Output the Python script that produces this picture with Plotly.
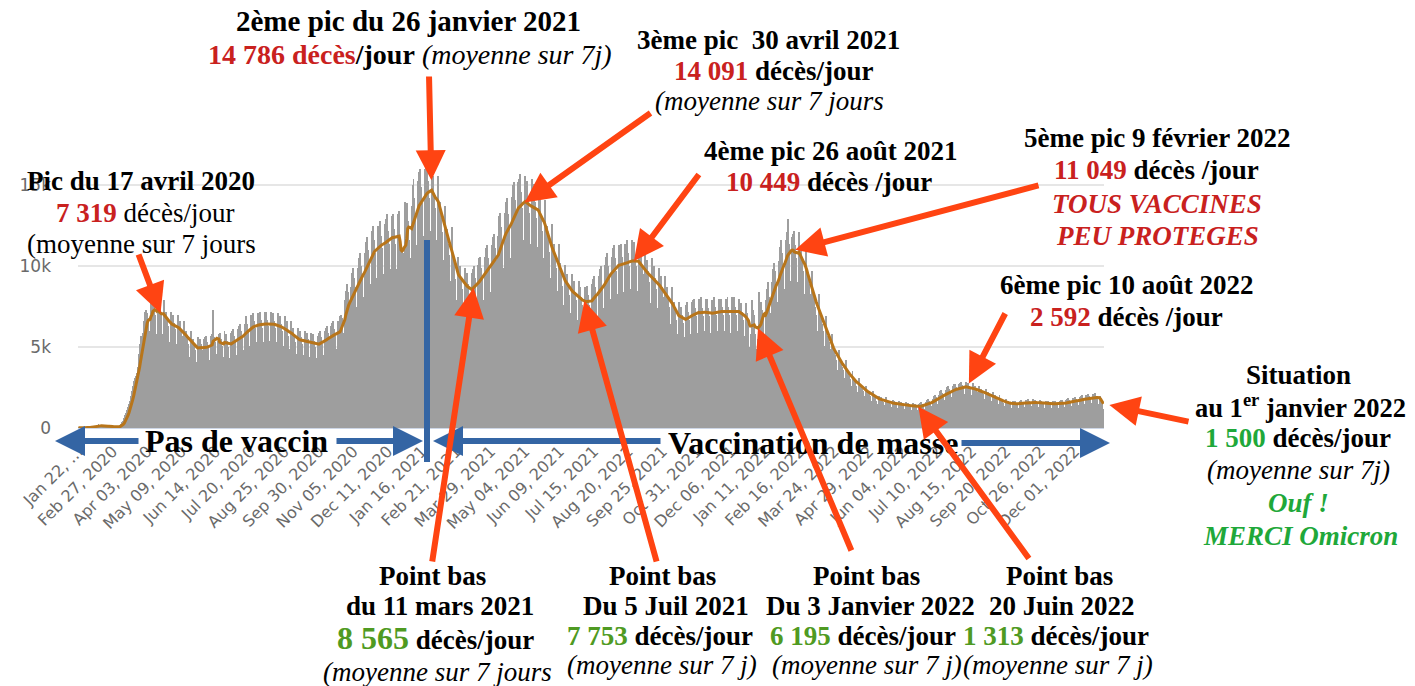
import pandas as pd
import plotly.graph_objects as go

# ---------------- DATA ----------------
START_DATE = "2020-01-22"
# Daily COVID-19 deaths worldwide, in thousands, one row per week (Wed..Tue)
daily_deaths_k = [
    0.02, 0.0, 0.01, 0.02, 0.01, 0.03, 0.05,
    0.0, 0.04, 0.04, 0.05, 0.05, 0.06, 0.06,
    0.07, 0.07, 0.09, 0.08, 0.1, 0.1, 0.11,
    0.25, 0.14, 0.14, 0.14, 0.11, 0.1, 0.1,
    0.12, 0.12, 0.1, 0.1, 0.1, 0.15, 0.07,
    0.06, 0.05, 0.06, 0.07, 0.06, 0.07, 0.08,
    0.1, 0.15, 0.2, 0.25, 0.35, 0.45, 0.6,
    0.8, 0.95, 1.1, 1.3, 1.5, 1.7, 1.95,
    2.3, 2.6, 2.9, 3.1, 3.2, 3.4, 3.8,
    4.6, 5.2, 5.5, 5.7, 5.6, 5.9, 6.6,
    7.2, 7.3, 7.1, 6.8, 6.0, 6.0, 7.9,
    7.9, 8.8, 7.6, 7.0, 5.8, 5.6, 8.5,
    7.7, 7.9, 7.2, 6.7, 5.8, 5.7, 7.9,
    7.1, 7.2, 6.7, 6.3, 5.3, 5.3, 7.2,
    6.9, 7.0, 6.5, 6.1, 5.1, 5.2, 7.0,
    6.5, 6.6, 6.1, 5.7, 4.8, 4.9, 6.6,
    5.9, 6.0, 5.6, 5.2, 4.4, 4.4, 6.0,
    5.4, 5.5, 5.1, 4.8, 4.1, 4.1, 5.6,
    5.5, 5.5, 5.2, 4.8, 4.0, 4.1, 5.5,
    5.6, 5.7, 5.3, 5.0, 4.2, 4.2, 5.7,
    5.8, 7.3, 5.6, 5.3, 4.5, 4.6, 5.4,
    5.8, 5.9, 5.5, 5.1, 4.3, 4.4, 6.0,
    5.7, 5.8, 5.4, 5.0, 4.3, 4.3, 5.9,
    6.0, 6.1, 5.7, 5.3, 4.5, 4.5, 6.1,
    6.3, 6.4, 6.0, 5.6, 4.7, 4.8, 6.4,
    6.8, 6.9, 6.4, 6.0, 5.1, 5.1, 7.0,
    7.0, 7.1, 6.6, 6.2, 5.2, 5.3, 7.1,
    7.1, 7.2, 6.7, 6.2, 5.3, 5.3, 7.2,
    7.1, 7.2, 6.7, 6.3, 5.3, 5.4, 7.2,
    7.0, 7.1, 6.6, 6.2, 5.2, 5.3, 7.1,
    6.8, 6.9, 6.4, 6.0, 5.0, 5.1, 6.9,
    6.5, 6.6, 6.1, 5.7, 4.8, 4.9, 6.6,
    6.1, 6.2, 5.7, 5.3, 4.5, 4.6, 6.2,
    5.9, 6.0, 5.6, 5.2, 4.4, 4.5, 6.0,
    5.8, 5.9, 5.5, 5.1, 4.3, 4.4, 5.9,
    5.7, 5.8, 5.4, 5.0, 4.2, 4.3, 5.7,
    5.9, 6.0, 5.6, 5.2, 4.4, 4.5, 6.0,
    6.2, 6.3, 5.9, 5.5, 4.6, 4.7, 6.3,
    6.5, 6.6, 6.1, 5.7, 4.8, 4.9, 6.6,
    6.6, 6.9, 7.0, 6.8, 5.7, 5.9, 7.9,
    8.5, 8.9, 8.4, 7.8, 6.6, 6.8, 8.7,
    9.6, 9.9, 9.3, 8.7, 7.4, 7.5, 9.9,
    10.5, 10.8, 10.0, 9.4, 8.0, 8.1, 10.8,
    11.5, 11.8, 11.0, 10.3, 8.8, 8.9, 11.9,
    12.2, 12.5, 11.6, 10.8, 9.2, 9.3, 12.5,
    12.5, 12.8, 11.9, 11.1, 9.4, 9.5, 12.6,
    12.9, 13.2, 12.2, 11.4, 9.7, 9.8, 13.1,
    13.0, 13.2, 12.3, 11.4, 9.7, 9.8, 13.2,
    13.4, 11.0, 8.5, 11.0, 10.0, 10.8, 14.0,
    13.8, 13.9, 12.8, 11.6, 10.0, 10.5, 13.7,
    15.0, 15.4, 14.2, 13.1, 11.2, 11.3, 15.3,
    15.8, 16.0, 14.9, 13.9, 11.7, 11.9, 16.0,
    16.4, 16.6, 15.3, 14.2, 12.0, 12.2, 16.2,
    15.6, 15.6, 14.5, 13.6, 11.5, 11.6, 15.6,
    14.0, 14.0, 13.0, 12.1, 10.3, 10.4, 13.7,
    12.1, 12.3, 11.4, 10.7, 9.0, 9.1, 12.4,
    10.5, 10.6, 9.9, 9.2, 7.8, 7.9, 10.6,
    9.8, 10.0, 9.3, 8.6, 7.3, 7.4, 9.9,
    9.4, 9.6, 8.9, 8.3, 7.0, 7.1, 9.6,
    9.8, 10.0, 9.3, 8.7, 7.3, 7.4, 10.1,
    10.5, 10.6, 9.9, 9.2, 7.8, 7.9, 10.6,
    11.1, 11.3, 10.5, 9.8, 8.3, 8.4, 11.3,
    11.8, 12.0, 11.1, 10.4, 8.8, 8.9, 11.9,
    13.1, 13.3, 12.4, 11.5, 9.8, 9.9, 13.3,
    14.0, 14.2, 13.2, 12.3, 10.4, 10.5, 14.3,
    15.0, 15.2, 14.1, 13.2, 11.2, 11.3, 15.2,
    15.4, 15.7, 14.6, 13.6, 11.5, 11.6, 15.6,
    15.1, 15.3, 14.2, 13.3, 11.2, 11.4, 15.4,
    14.8, 15.1, 14.0, 13.0, 11.0, 11.2, 15.0,
    13.9, 14.1, 13.1, 12.2, 10.3, 10.5, 14.1,
    12.3, 12.5, 11.6, 10.9, 9.2, 9.3, 12.6,
    11.2, 11.4, 10.6, 9.9, 8.4, 8.5, 11.4,
    10.0, 10.2, 9.5, 8.8, 7.5, 7.6, 10.1,
    9.4, 9.5, 8.8, 8.2, 7.0, 7.1, 9.5,
    8.9, 9.1, 8.4, 7.9, 6.6, 6.7, 9.1,
    8.6, 8.7, 8.1, 7.6, 6.4, 6.5, 8.7,
    8.6, 8.8, 8.2, 7.6, 6.4, 6.5, 8.9,
    9.2, 9.4, 8.7, 8.1, 6.8, 6.9, 9.4,
    9.8, 10.0, 9.3, 8.7, 7.3, 7.4, 10.1,
    10.6, 10.8, 10.0, 9.3, 7.9, 8.0, 10.6,
    11.1, 11.3, 10.5, 9.7, 8.2, 8.3, 11.3,
    11.2, 11.4, 10.6, 9.8, 8.3, 8.4, 11.4,
    11.4, 11.6, 10.8, 10.0, 8.5, 8.6, 11.6,
    11.3, 11.5, 10.7, 10.0, 8.4, 8.5, 11.7,
    10.7, 10.9, 10.1, 9.5, 8.0, 8.1, 11.0,
    10.2, 10.4, 9.7, 9.0, 7.6, 7.7, 10.5,
    9.8, 10.0, 9.3, 8.6, 7.3, 7.4, 9.9,
    9.2, 9.4, 8.7, 8.1, 6.8, 6.9, 9.4,
    8.5, 8.7, 8.1, 7.5, 6.4, 6.4, 8.7,
    7.6, 7.8, 7.2, 6.7, 5.7, 5.8, 7.8,
    7.4, 7.5, 7.0, 6.5, 5.5, 5.6, 7.5,
    7.6, 7.8, 7.2, 6.7, 5.7, 5.8, 7.8,
    7.9, 8.0, 7.4, 6.9, 5.9, 5.9, 8.0,
    7.8, 8.1, 7.4, 6.9, 5.9, 6.0, 8.0,
    7.8, 8.0, 7.4, 6.9, 5.8, 5.9, 7.9,
    7.9, 8.1, 7.5, 7.0, 5.9, 6.0, 8.0,
    8.0, 8.0, 7.5, 7.0, 5.9, 6.0, 8.0,
    7.9, 8.1, 7.5, 7.0, 5.9, 5.9, 8.1,
    7.9, 8.1, 7.5, 7.0, 5.9, 6.0, 8.0,
    7.6, 7.7, 7.2, 6.7, 5.7, 5.7, 7.7,
    7.0, 7.1, 6.6, 5.0, 5.0, 5.8, 7.9,
    7.3, 7.0, 5.8, 4.9, 4.8, 5.5, 8.4,
    7.7, 7.8, 7.3, 6.8, 5.7, 5.8, 7.9,
    8.6, 9.0, 8.7, 8.1, 6.9, 7.1, 9.0,
    9.8, 10.2, 9.7, 9.0, 7.6, 7.8, 10.3,
    11.2, 11.6, 10.8, 10.1, 8.5, 8.6, 11.6,
    12.1, 12.9, 11.4, 10.7, 9.0, 9.1, 11.8,
    12.0, 12.2, 11.3, 10.5, 8.9, 9.0, 12.1,
    11.0, 11.2, 10.4, 9.7, 8.2, 8.3, 11.2,
    9.5, 9.6, 8.9, 8.3, 7.1, 7.1, 9.7,
    8.0, 8.1, 7.5, 7.0, 5.9, 6.0, 8.3,
    6.8, 6.9, 6.4, 6.0, 5.0, 5.1, 6.9,
    5.6, 5.7, 5.3, 4.9, 4.2, 4.2, 5.8,
    4.7, 4.8, 4.5, 4.2, 3.5, 3.6, 4.8,
    4.1, 4.1, 3.8, 3.6, 3.0, 3.1, 4.2,
    3.4, 3.5, 3.2, 3.0, 2.5, 2.6, 3.5,
    3.0, 3.0, 2.8, 2.6, 2.2, 2.2, 3.1,
    2.6, 2.6, 2.4, 2.3, 1.9, 2.0, 2.6,
    2.3, 2.3, 2.1, 2.0, 1.7, 1.7, 2.3,
    2.0, 2.0, 1.9, 1.7, 1.5, 1.5, 2.0,
    1.9, 1.9, 1.8, 1.6, 1.4, 1.4, 1.9,
    1.7, 1.7, 1.6, 1.5, 1.3, 1.3, 1.75,
    1.62, 1.65, 1.53, 1.43, 1.2, 1.22, 1.65,
    1.56, 1.59, 1.48, 1.38, 1.16, 1.18, 1.59,
    1.51, 1.53, 1.42, 1.33, 1.12, 1.14, 1.54,
    1.44, 1.47, 1.36, 1.27, 1.07, 1.09, 1.47,
    1.56, 1.59, 1.48, 1.38, 1.16, 1.18, 1.59,
    1.76, 1.79, 1.66, 1.55, 1.31, 1.33, 1.8,
    2.0, 2.04, 1.89, 1.77, 1.49, 1.51, 2.04,
    2.31, 2.35, 2.18, 2.04, 1.72, 1.74, 2.36,
    2.53, 2.58, 2.39, 2.23, 1.89, 1.91, 2.57,
    2.7, 2.74, 2.55, 2.38, 2.01, 2.03, 2.74,
    2.81, 2.86, 2.65, 2.47, 2.09, 2.12, 2.85,
    2.73, 2.78, 2.58, 2.41, 2.03, 2.06, 2.77,
    2.55, 2.6, 2.41, 2.25, 1.9, 1.93, 2.6,
    2.37, 2.41, 2.24, 2.09, 1.76, 1.78, 2.4,
    2.2, 2.24, 2.08, 1.94, 1.64, 1.66, 2.24,
    1.98, 2.02, 1.87, 1.75, 1.48, 1.49, 2.01,
    1.76, 1.79, 1.66, 1.55, 1.31, 1.33, 1.8,
    1.65, 1.68, 1.56, 1.46, 1.23, 1.25, 1.67,
    1.65, 1.68, 1.56, 1.45, 1.23, 1.25, 1.68,
    1.71, 1.74, 1.61, 1.5, 1.27, 1.29, 1.73,
    1.76, 1.79, 1.66, 1.55, 1.31, 1.33, 1.8,
    1.7, 1.74, 1.61, 1.51, 1.27, 1.29, 1.73,
    1.65, 1.68, 1.56, 1.46, 1.23, 1.25, 1.67,
    1.66, 1.67, 1.56, 1.45, 1.24, 1.24, 1.68,
    1.65, 1.68, 1.57, 1.45, 1.23, 1.25, 1.67,
    1.71, 1.74, 1.61, 1.5, 1.27, 1.29, 1.73,
    1.82, 1.85, 1.72, 1.6, 1.35, 1.37, 1.84,
    1.87, 1.9, 1.77, 1.65, 1.39, 1.41, 1.91,
    1.98, 2.02, 1.87, 1.75, 1.48, 1.49, 2.01,
    2.07, 2.11, 1.96, 1.82, 1.54, 1.56, 2.1,
    2.1, 2.15, 1.95, 1.8, 1.5, 1.5, 2.0,
    1.6, 1.5, 1.2, 1.2,
]

TICK_STEP_DAYS = 36
x_tick_labels = [
    "Jan 22, …", "Feb 27, 2020", "Apr 03, 2020", "May 09, 2020", "Jun 14, 2020",
    "Jul 20, 2020", "Aug 25, 2020", "Sep 30, 2020", "Nov 05, 2020", "Dec 11, 2020",
    "Jan 16, 2021", "Feb 21, 2021", "Mar 29, 2021", "May 04, 2021", "Jun 09, 2021",
    "Jul 15, 2021", "Aug 20, 2021", "Sep 25, 2021", "Oct 31, 2021", "Dec 06, 2021",
    "Jan 11, 2022", "Feb 16, 2022", "Mar 24, 2022", "Apr 29, 2022", "Jun 04, 2022",
    "Jul 10, 2022", "Aug 15, 2022", "Sep 20, 2022", "Oct 26, 2022", "Dec 01, 2022",
]
y_tick_values = [0, 5000, 10000, 15000]
y_tick_labels = ["0", "5k", "10k", "15k"]

peak_dates = ["2020-04-17", "2021-01-26", "2021-04-30", "2021-08-26", "2022-02-09", "2022-08-10"]
low_dates = ["2021-03-11", "2021-07-05", "2022-01-03", "2022-06-20"]
last_date = "2022-12-31"

# ---------------- SERIES ----------------
dates = pd.date_range(START_DATE, periods=len(daily_deaths_k), freq="D")
deaths = pd.Series([v * 1000 for v in daily_deaths_k], index=dates)
ma7 = deaths.rolling(7, min_periods=1).mean()
tick_dates = [dates[0] + pd.Timedelta(days=TICK_STEP_DAYS * i) for i in range(len(x_tick_labels))]

# ---------------- LAYOUT GEOMETRY ----------------
FIG_W, FIG_H = 1415, 686
L, T, PW, PH = 78, 153, 1026, 275
Y_MAX = 17000
x0 = dates[0] - pd.Timedelta(hours=12)
x1 = dates[-1] + pd.Timedelta(hours=12)

def px_x(d):
    return L + (pd.Timestamp(d) - x0) / (x1 - x0) * PW

def px_y(v):
    return T + PH * (1 - v / Y_MAX)

def paper(px, py):
    return (px - L) / PW, (T + PH - py) / PH

RED = "#c9211e"
GREEN_B = "#4f9a22"
GREEN_R = "#1fa83a"
ORANGE = "#ff4412"
BLUE = "#3465a4"
SERIF = "Liberation Serif"

fig = go.Figure()
fig.add_trace(go.Bar(x=dates, y=deaths.values, marker=dict(color="#9e9e9e", line=dict(width=0)),
                     name="Décès quotidiens"))
fig.add_trace(go.Scatter(x=dates, y=ma7.values, mode="lines",
                         line=dict(color="#b8751a", width=3), name="Moyenne 7 jours"))

annotations = []

def text(px, py, html, size=27, color="black"):
    xp, yp = paper(px, py)
    annotations.append(dict(x=xp, y=yp, xref="paper", yref="paper", text=html, showarrow=False,
                            xanchor="center", yanchor="middle",
                            font=dict(family=SERIF, size=size, color=color)))

def red(s):
    return f"<span style='color:{RED}'>{s}</span>"

def data_arrow(date, tail_px, tail_py, standoff=0):
    d = pd.Timestamp(date)
    v = float(ma7.loc[d])
    annotations.append(dict(x=d, y=v, xref="x", yref="y", text="", showarrow=True,
                            ax=tail_px - px_x(d), ay=tail_py - px_y(v),
                            arrowhead=2, arrowsize=1, arrowwidth=6, arrowcolor=ORANGE,
                            standoff=standoff))

def paper_arrow(tip, tail, color):
    xp, yp = paper(*tip)
    annotations.append(dict(x=xp, y=yp, xref="paper", yref="paper", text="", showarrow=True,
                            ax=tail[0] - tip[0], ay=tail[1] - tip[1],
                            arrowhead=2, arrowsize=1, arrowwidth=6, arrowcolor=color))

# Peak 1
text(141, 181, "<b>Pic du 17 avril 2020</b>")
text(145, 213, f"<b>{red('7 319')}</b> décès/jour")
text(141, 244, "(moyenne sur 7 jours")
# Peak 2
text(408, 21, "<b>2ème pic du 26 janvier 2021</b>", size=29)
text(410, 55, f"<b>{red('14 786 décès')}/jour</b> <i>(moyenne sur 7j)</i>", size=28)
# Peak 3
text(768, 40, "<b>3ème pic\u00a0 30 avril 2021</b>")
text(773, 71, f"<b>{red('14 091')} décès/jour</b>")
text(769, 101, "<i>(moyenne sur 7 jours</i>")
# Peak 4
text(830, 151, "<b>4ème pic 26 août 2021</b>")
text(829, 182, f"<b>{red('10 449')} décès /jour</b>")
# Peak 5
text(1157, 138, "<b>5ème pic 9 février 2022</b>")
text(1156, 170, f"<b>{red('11 049')} décès /jour</b>")
text(1157, 204, "<b><i>TOUS VACCINES</i></b>", color=RED)
text(1157, 236, "<b><i>PEU PROTEGES</i></b>", color=RED)
# Peak 6
text(1126, 285, "<b>6ème pic 10 août 2022</b>")
text(1126, 317, f"<b>{red('2 592')} décès /jour</b>")
# Situation
text(1298, 375, "<b>Situation</b>")
text(1300, 406, "<b>au 1<sup>er</sup> janvier 2022</b>", size=26.5)
text(1298, 438, f"<b><span style='color:{GREEN_R}'>1 500</span> décès/jour</b>")
text(1298, 470, "<i>(moyenne sur 7j)</i>")
text(1298, 503, "<b><i>Ouf !</i></b>", color=GREEN_R)
text(1300, 536, "<b><i>MERCI Omicron</i></b>", color=GREEN_R)

# Low points
lows = [
    (432, 440, 435, 437, "du 11 mars 2021", "8 565", 32, "(moyenne sur 7 jours", 638, 672),
    (662, 666, 660, 662, "Du 5 Juil 2021", "7 753", 27, "(moyenne sur 7 j)", 636, 665),
    (866, 870, 863, 867, "Du 3 Janvier 2022", "6 195", 27, "(moyenne sur 7 j)", 636, 665),
    (1059, 1062, 1056, 1058, "20 Juin 2022", "1 313", 27, "(moyenne sur 7 j)", 636, 665),
]
for cx1, cx2, cx3, cx4, ttl, val, vsize, note, y3, y4 in lows:
    text(cx1, 576, "<b>Point bas</b>")
    text(cx2, 606, f"<b>{ttl}</b>")
    text(cx3, y3, f"<b><span style='color:{GREEN_B};font-size:{vsize}px'>{val}</span> décès/jour</b>")
    text(cx4, y4, f"<i>{note}</i>")

# Vaccination phases
text(236, 441, "<b>Pas de vaccin</b>", size=32)
text(813, 443, "<b>Vaccination de masse</b>", size=32)
paper_arrow((55, 441), (140, 441), BLUE)
paper_arrow((423, 441), (335, 441), BLUE)
paper_arrow((433, 441), (662, 441), BLUE)
paper_arrow((1110, 443), (960, 443), BLUE)

# Orange arrows to the 7-day average
peak_tails = [(138, 253, 0), (429, 75, 10), (652, 112, 4), (700, 173, 0), (1040, 185, 2), (1006, 312, 4)]
for dte, (tx, ty, so) in zip(peak_dates, peak_tails):
    data_arrow(dte, tx, ty, so)
low_tails = [(432, 563), (657, 563), (852, 552), (1030, 560)]
for dte, (tx, ty) in zip(low_dates, low_tails):
    data_arrow(dte, tx, ty, 0)
data_arrow(last_date, 1190, 422, 6)

vx, _ = paper(427, 0)
_, vy0 = paper(0, 462)
_, vy1 = paper(0, 240)
shapes = [dict(type="line", xref="paper", yref="paper", x0=vx, x1=vx, y0=vy0, y1=vy1,
               line=dict(color=BLUE, width=6), layer="above")]

fig.update_layout(
    width=FIG_W, height=FIG_H,
    margin=dict(l=L, r=FIG_W - L - PW, t=T, b=FIG_H - T - PH, pad=0),
    paper_bgcolor="white", plot_bgcolor="white",
    showlegend=False, bargap=0,
    annotations=annotations, shapes=shapes,
    xaxis=dict(type="date", range=[x0, x1], tickmode="array", tickvals=tick_dates,
               ticktext=x_tick_labels, tickangle=-45, showgrid=False, ticks="",
               tickfont=dict(family="DejaVu Sans", size=16, color="#6a6a6a"),
               ticklabelstandoff=10, showline=False, zeroline=False),
    yaxis=dict(range=[0, Y_MAX], tickmode="array", tickvals=y_tick_values, ticktext=y_tick_labels,
               showgrid=True, gridcolor="#e6e6e6", gridwidth=1.5, ticks="",
               tickfont=dict(family="DejaVu Sans", size=17, color="#6a6a6a"),
               ticklabelstandoff=26, zeroline=True, zerolinecolor="#cdd6e6", zerolinewidth=1.5,
               showline=False),
)

fig.write_html("out.html", config={"displayModeBar": False},
               post_script="document.body.style.margin='0';document.body.style.overflow='hidden';")
